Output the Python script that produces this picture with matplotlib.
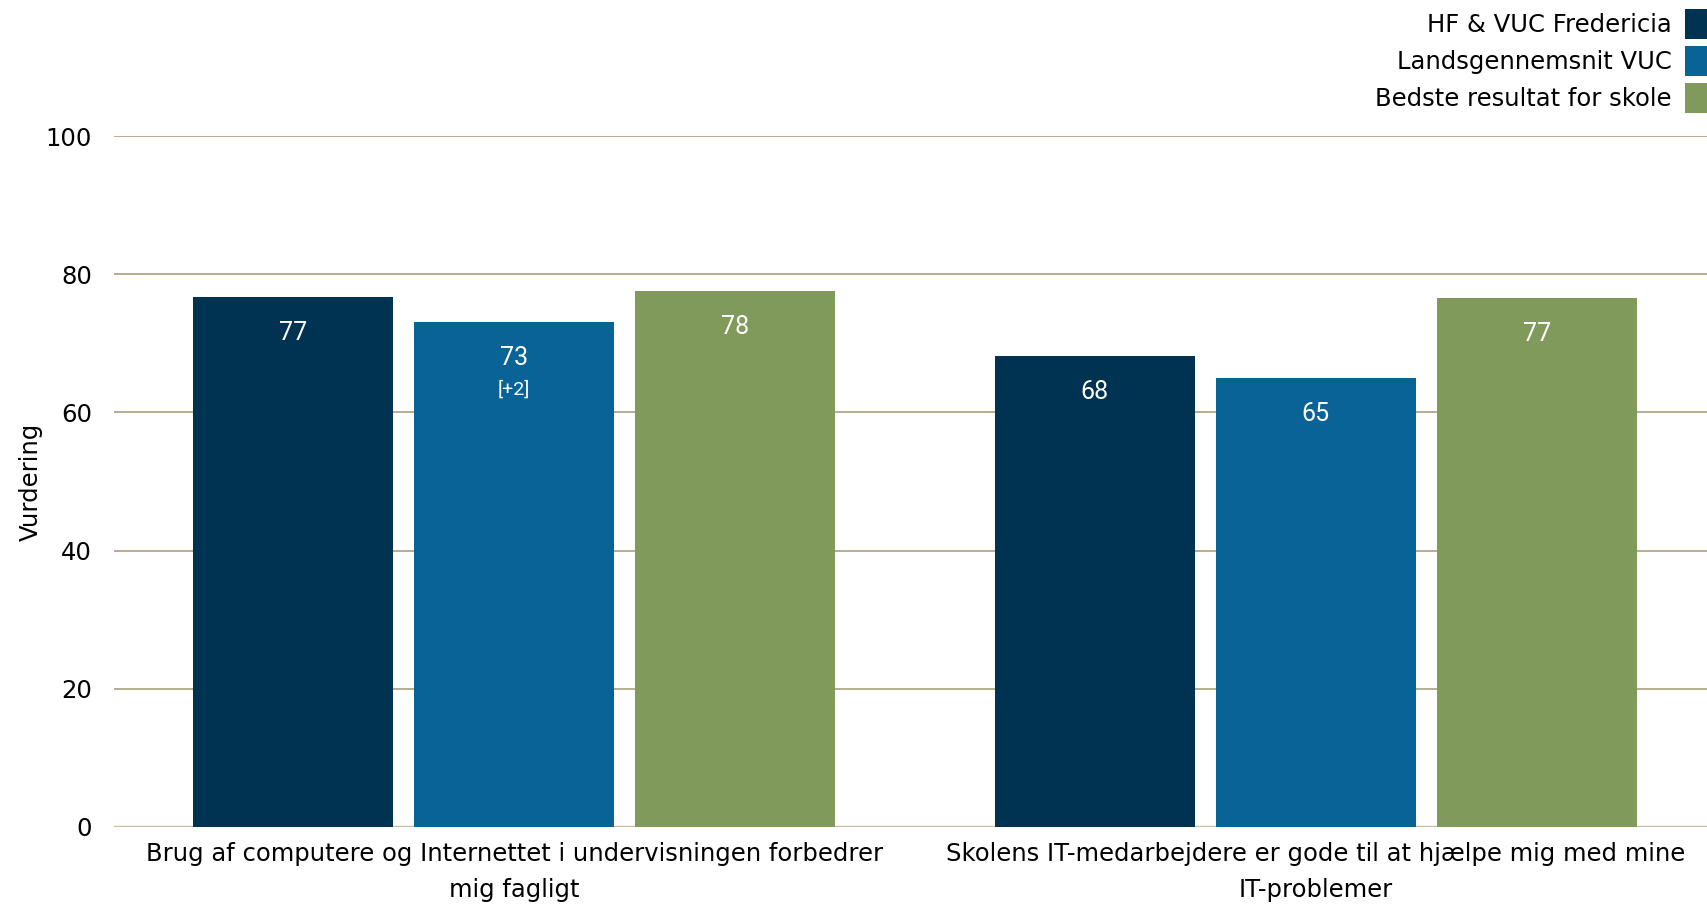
import numpy as np
import matplotlib
matplotlib.use("Agg")
import matplotlib.pyplot as plt
from matplotlib.patches import Patch

# categories and series
categories = ["Brug af computere og Internettet i undervisningen forbedrer\nmig fagligt",
              "Skolens IT-medarbejdere er gode til at hjælpe mig med mine\nIT-problemer"]
series = ["HF & VUC Fredericia", "Landsgennemsnit VUC", "Bedste resultat for skole"]
school = [76.7, 68.2]
national = [73.1, 65.0]
best = [77.6, 76.6]
notes = [["", ""], ["[+2]", ""], ["", ""]]
colors = ["#003252", "#086497", "#7f9a5a"]

yticks = [0, 20, 40, 60, 80, 100]

plt.rcParams['font.family'] = ['DejaVu Sans']

fig = plt.figure(figsize=(17.08, 9.07), dpi=100)
ax = fig.add_axes([114 / 1708, 1 - 827 / 907, 1594 / 1708, 691 / 907])

x = np.arange(len(categories))
width = 0.25
offsets = [-0.2757, 0, 0.2757]
values = [school, national, best]

for i, (vals, col) in enumerate(zip(values, colors)):
    bars = ax.bar(x + offsets[i], vals, width, color=col, zorder=3, label=series[i])
    for j, b in enumerate(bars):
        cx = b.get_x() + b.get_width() / 2
        top = b.get_height()
        ax.annotate(f"{round(vals[j])}", (cx, top), xytext=(0, -26), textcoords="offset points",
                    ha="center", va="center", color="white", fontsize=18, family="Roboto", zorder=4)
        if notes[i][j]:
            ax.annotate(notes[i][j], (cx, top), xytext=(0, -49), textcoords="offset points",
                        ha="center", va="center", color="white", fontsize=14, family="Roboto", zorder=4)

ax.set_xlim(-0.499, 1.489)
ax.set_ylim(0, 100)
ax.set_yticks(yticks)
ax.set_yticklabels([str(t) for t in yticks], fontsize=17.5)
ax.set_xticks(x)
ax.set_xticklabels(categories, fontsize=17.5, linespacing=1.6)
ax.tick_params(axis="y", length=0, pad=16)
ax.tick_params(axis="x", length=0, pad=11)
ax.grid(axis="y", color="#a8a07c", linewidth=1.2, zorder=0)
for s in ax.spines.values():
    s.set_visible(False)
ax.axhline(0, color="#c9c1a3", linewidth=2.5, zorder=2)
ax.set_ylabel("Vurdering", fontsize=17.5, labelpad=2)

handles = [Patch(facecolor=c, edgecolor="none") for c in colors]
leg = fig.legend(handles, series, loc="upper right", bbox_to_anchor=(1.0, 0.99),
                 frameon=False, fontsize=17.5, markerfirst=False, handlelength=0.95,
                 handleheight=1.5, handletextpad=0.55, labelspacing=0.3,
                 borderaxespad=0.0, borderpad=0.0)
for t in leg.get_texts():
    t.set_ha("right")

fig.savefig("out.png", dpi=100)
